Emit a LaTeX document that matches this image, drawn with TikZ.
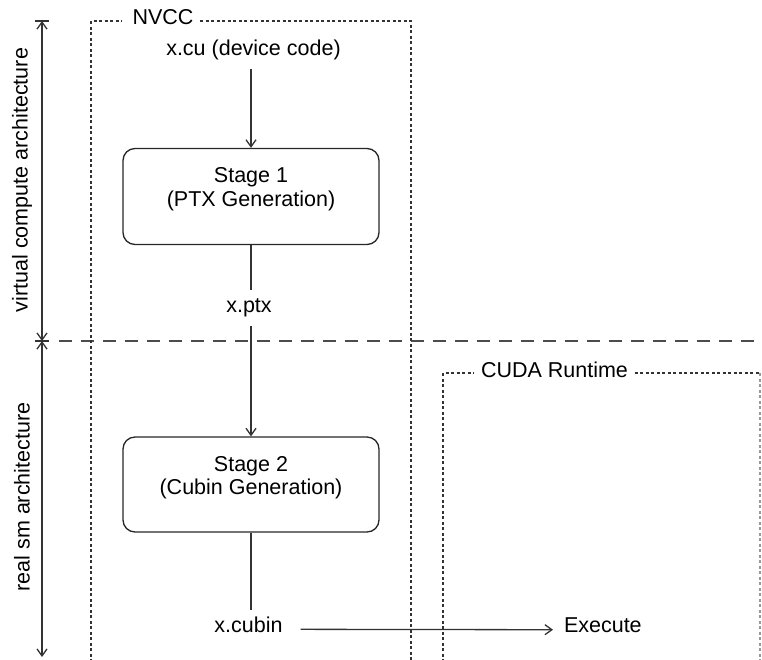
\documentclass[tikz,border=0pt]{standalone}
\usepackage{fontspec}
\setmainfont{Liberation Sans}
\usetikzlibrary{arrows.meta}
\begin{document}
\begin{tikzpicture}[x=1pt,y=-1pt,
  lbl/.style={font=\fontsize{21.5}{23.5}\selectfont, inner sep=0pt, outer sep=0pt},
  stagebox/.style={draw=black!85, rounded corners=12pt, minimum width=256pt, minimum height=96pt, line width=1.3pt, inner sep=0pt},
  conn/.style={line width=1.3pt, draw=black!80},
  arr/.style={conn, -{Straight Barb[length=7pt,width=10pt]}},
  dimarr/.style={conn, {Straight Barb[length=7pt,width=10pt]}-{Straight Barb[length=7pt,width=10pt]}},
  boxdash/.style={line width=1.2pt, dash pattern=on 3pt off 2.5pt, draw=black!80},
  sepline/.style={line width=1.5pt, dash pattern=on 13pt off 9pt, draw=black!70},
]
\useasboundingbox (0,0) rectangle (762,659);

% dimension arrows on the left
\coordinate (dtop) at (42,21);
\coordinate (dmid) at (42,341);
\coordinate (dbot) at (42,657);
\draw[dimarr] (dtop) -- (dmid);
\draw[dimarr] (dmid) -- (dbot);
\draw[conn] ([xshift=-7pt]dtop) -- ([xshift=7pt]dtop);
\draw[conn] ([xshift=-7pt]dmid) -- ([xshift=7pt]dmid);
\node[lbl, rotate=90] (vlab) at (22,180) {virtual compute architecture};
\node[lbl, rotate=90] (rlab) at (22,497) {real sm architecture};

% separator
\coordinate (sepL) at (59,341);
\coordinate (sepR) at (762,341);
\draw[sepline] (sepL) -- (sepR);

% NVCC box
\node[lbl, anchor=base] (nvcc) at (163,24) {NVCC};
\coordinate (nvccBL) at (91,662);
\coordinate (nvccBR) at (411,662);
\draw[boxdash] (nvccBL) |- ([shift={(-11,-3)}]nvcc.base west);
\draw[boxdash] ([shift={(7,-3)}]nvcc.base east) -| (nvccBR);

% CUDA Runtime box
\node[lbl, anchor=base] (cuda) at (554.5,377) {CUDA Runtime};
\coordinate (cudaBL) at (443,662);
\coordinate (cudaBR) at (760,662);
\coordinate (cudaTR) at (760,373);
\draw[boxdash] (cudaBL) |- ([shift={(-8,-4)}]cuda.base west);
\draw[boxdash] ([shift={(7,-4)}]cuda.base east) -- (cudaTR);
\draw[boxdash, draw=black!40] (cudaTR) -- (cudaBR);

% flow
\node[lbl, anchor=base] (src) at (253.5,55) {x.cu (device code)};
\node[stagebox] (s1) at (251,196.5) {};
\node[lbl, align=center, anchor=north] (s1t) at (251,167.5) {Stage 1\\(PTX Generation)};
\node[lbl, anchor=base] (ptx) at (249,312) {x.ptx};
\node[stagebox, minimum height=95pt] (s2) at (251,484.5) {};
\node[lbl, align=center, anchor=north] (s2t) at (251,456) {Stage 2\\(Cubin Generation)};
\node[lbl, anchor=base] (cubin) at (248.5,632) {x.cubin};
\node[lbl, anchor=base west] (exec) at (564,632) {Execute};

\draw[arr, shorten <=10pt] (s1.north |- src.south) -- (s1.north);
\draw[conn, shorten >=8pt] (s1.south) -- (s1.south |- ptx.north);
\draw[arr, shorten <=9.5pt] (s2.north |- ptx.south) -- (s2.north);
\draw[conn, shorten >=6pt] (s2.south) -- (s2.south |- cubin.north);
\draw[arr] ([shift={(18,5)}]cubin.east) -- ([shift={(-11,5)}]exec.west);
\end{tikzpicture}
\end{document}
